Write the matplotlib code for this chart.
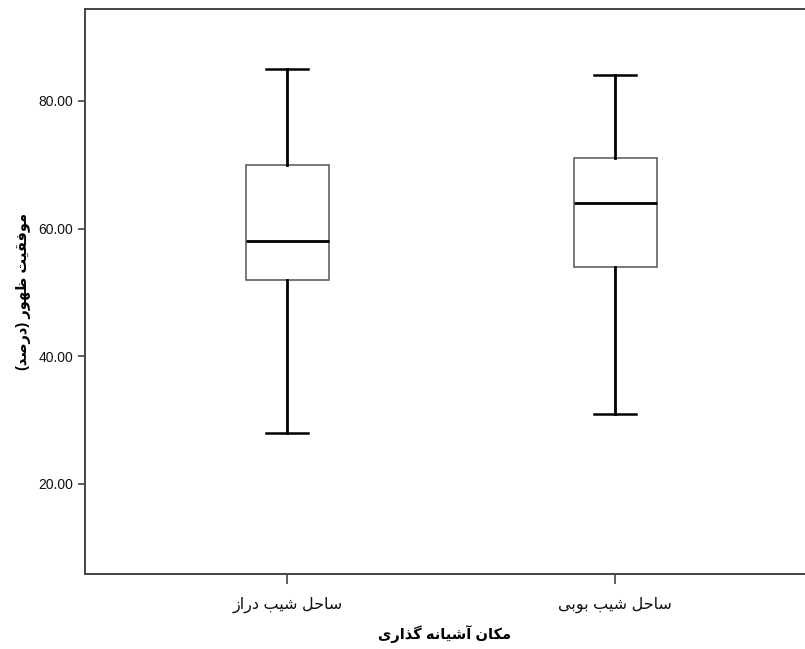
import matplotlib
matplotlib.use("Agg")
import matplotlib.pyplot as plt

plt.rcParams['font.family'] = ['Liberation Sans', 'DejaVu Sans']

# five-number summaries per nesting beach
sites = ["ساحل شیب دراز", "ساحل شیب بوبی"]
whislo = [28.0, 31.0]
q1 = [52.0, 54.0]
med = [58.0, 64.0]
q3 = [70.0, 71.0]
whishi = [85.0, 84.0]
yticks = [20, 40, 60, 80]
xlabel = "مکان آشیانه گذاری"
ylabel = "موفقیت ظهور (درصد)"

# arabic/persian contextual forms: isolated, final, initial, medial
FORMS = {
    'ا': ('\uFE8D', '\uFE8E', None, None),
    'آ': ('\uFE81', '\uFE82', None, None),
    'ب': ('\uFE8F', '\uFE90', '\uFE91', '\uFE92'),
    'ت': ('\uFE95', '\uFE96', '\uFE97', '\uFE98'),
    'ح': ('\uFEA1', '\uFEA2', '\uFEA3', '\uFEA4'),
    'د': ('\uFEA9', '\uFEAA', None, None),
    'ذ': ('\uFEAB', '\uFEAC', None, None),
    'ر': ('\uFEAD', '\uFEAE', None, None),
    'ز': ('\uFEAF', '\uFEB0', None, None),
    'س': ('\uFEB1', '\uFEB2', '\uFEB3', '\uFEB4'),
    'ش': ('\uFEB5', '\uFEB6', '\uFEB7', '\uFEB8'),
    'ص': ('\uFEB9', '\uFEBA', '\uFEBB', '\uFEBC'),
    'ظ': ('\uFEC5', '\uFEC6', '\uFEC7', '\uFEC8'),
    'ف': ('\uFED1', '\uFED2', '\uFED3', '\uFED4'),
    'ق': ('\uFED5', '\uFED6', '\uFED7', '\uFED8'),
    'ل': ('\uFEDD', '\uFEDE', '\uFEDF', '\uFEE0'),
    'م': ('\uFEE1', '\uFEE2', '\uFEE3', '\uFEE4'),
    'ن': ('\uFEE5', '\uFEE6', '\uFEE7', '\uFEE8'),
    'ه': ('\uFEE9', '\uFEEA', '\uFEEB', '\uFEEC'),
    'و': ('\uFEED', '\uFEEE', None, None),
    'ی': ('\uFBFC', '\uFBFD', '\uFBFE', '\uFBFF'),
    'ک': ('\uFB8E', '\uFB8F', '\uFB90', '\uFB91'),
    'گ': ('\uFB92', '\uFB93', '\uFB94', '\uFB95'),
}


def shape(text):
    out = []
    n = len(text)
    for i, ch in enumerate(text):
        if ch not in FORMS:
            out.append(ch)
            continue
        iso, fin, ini, mid = FORMS[ch]
        prev = text[i - 1] if i > 0 else ''
        nxt = text[i + 1] if i < n - 1 else ''
        jp = prev in FORMS and FORMS[prev][2] is not None
        jn = nxt in FORMS and ini is not None
        if jp and jn:
            out.append(mid)
        elif jp:
            out.append(fin)
        elif jn:
            out.append(ini)
        else:
            out.append(iso)
    vis = ''.join(reversed(out))
    return vis.translate(str.maketrans('()', ')('))


fig = plt.figure(figsize=(8.05, 6.49), dpi=100)
ax = fig.add_axes([85 / 805, 1 - 574 / 649, 720 / 805, 564.5 / 649])

stats = []
for i in range(len(sites)):
    stats.append(dict(whislo=whislo[i], q1=q1[i], med=med[i], q3=q3[i],
                      whishi=whishi[i], fliers=[]))

ax.bxp(stats, positions=[1, 2], widths=0.253, showfliers=False,
       patch_artist=True,
       boxprops=dict(facecolor='white', edgecolor='#555555', linewidth=1.1),
       medianprops=dict(color='black', linewidth=2.0),
       whiskerprops=dict(color='black', linewidth=2.0),
       capprops=dict(color='black', linewidth=1.8),
       capwidths=0.128)

ax.set_xlim(0.383, 2.578)
ax.set_ylim(5.9, 94.3)
ax.set_yticks(yticks)
ax.set_yticklabels([f"{v:.2f}" for v in yticks], fontsize=10)
ax.set_xticks([1, 2])
ax.set_xticklabels([shape(s) for s in sites], fontsize=11.5)

for side in ['left', 'top', 'bottom']:
    ax.spines[side].set_color('#444444')
    ax.spines[side].set_linewidth(1.4)
ax.spines['right'].set_visible(False)
ax.tick_params(axis='both', direction='out', length=5, width=1.2,
               color='#444444', labelcolor='#111111')
ax.tick_params(axis='x', length=7, pad=9)

ax.set_xlabel(shape(xlabel), fontsize=10.5, fontweight='bold', labelpad=9)
ax.set_ylabel(shape(ylabel), fontsize=10.5, fontweight='bold', labelpad=5)

fig.savefig("out.png", dpi=100)
